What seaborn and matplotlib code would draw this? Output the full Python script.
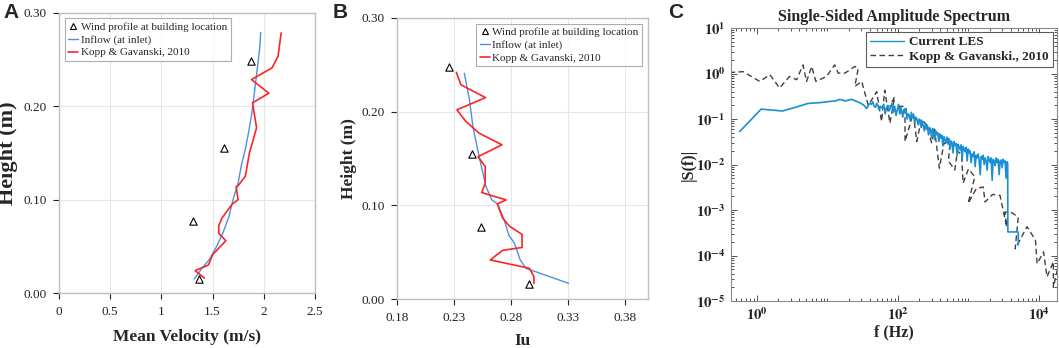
import numpy as np
import seaborn as sns
import matplotlib.pyplot as plt
from matplotlib.lines import Line2D
from matplotlib.ticker import FixedLocator, LogLocator, NullFormatter, FuncFormatter

# ---- panel A: mean velocity profile ----
a_site_u = [1.88, 1.61, 1.31, 1.37]
a_site_z = [0.248, 0.155, 0.077, 0.015]
a_inlet_u = [1.32, 1.34, 1.40, 1.47, 1.54, 1.60, 1.66, 1.70, 1.75, 1.78,
             1.82, 1.85, 1.88, 1.90, 1.92, 1.94, 1.96, 1.97]
a_inlet_z = [0.015, 0.018, 0.027, 0.036, 0.050, 0.064, 0.082, 0.100, 0.118, 0.136,
             0.154, 0.171, 0.190, 0.207, 0.225, 0.243, 0.262, 0.279]
a_kopp_u = [1.42, 1.33, 1.46, 1.50, 1.63, 1.56, 1.56, 1.59, 1.69, 1.75, 1.73,
            1.75, 1.82, 1.86, 1.93, 1.89, 2.05, 1.88, 2.08, 2.14, 2.17]
a_kopp_z = [0.016, 0.024, 0.030, 0.041, 0.056, 0.064, 0.072, 0.080, 0.095, 0.100, 0.1136,
            0.115, 0.125, 0.150, 0.177, 0.2036, 0.214, 0.2286, 0.241, 0.2536, 0.2786]

# ---- panel B: turbulence intensity profile ----
b_site_iu = [0.2255, 0.246, 0.254, 0.296]
b_site_z = [0.248, 0.155, 0.077, 0.0157]
b_inlet_iu = [0.239, 0.2435, 0.2465, 0.252, 0.258, 0.263, 0.268, 0.274, 0.278,
              0.283, 0.288, 0.293, 0.3304]
b_inlet_z = [0.241, 0.2127, 0.184, 0.152, 0.120, 0.106, 0.1015, 0.0844, 0.068,
             0.0595, 0.0417, 0.0328, 0.0167]
b_kopp_iu = [0.232, 0.236, 0.2576, 0.2325, 0.240, 0.252, 0.272, 0.251, 0.2573, 0.2573,
             0.2543, 0.2756, 0.268, 0.2727, 0.279, 0.2896, 0.2896, 0.2727, 0.2617,
             0.296, 0.300, 0.300]
b_kopp_z = [0.242, 0.2287, 0.215, 0.202, 0.190, 0.177, 0.1646, 0.152, 0.1414, 0.1236,
            0.1136, 0.1058, 0.1015, 0.086, 0.0773, 0.069, 0.055, 0.052, 0.0417,
            0.0328, 0.0239, 0.0167]

# ---- panel C: single-sided amplitude spectrum ----
les_f = [0.57, 1.15, 2.3, 3.5, 5.3, 8, 10, 13, 15, 18, 22, 25, 30, 33, 36,
         38, 40, 42, 44, 46, 48, 50, 52, 54, 57, 60, 63, 66, 69, 72, 75, 78, 82, 86, 90, 94, 98,
         102, 106, 109, 113, 117, 121, 125, 130, 135, 140,
         145, 150, 155, 161, 167, 173, 179, 186, 193, 200,
         207, 214, 221, 229, 237, 245, 253, 262, 271, 280,
         290, 300, 310, 321, 332, 343, 355, 367, 380, 393,
         406, 420, 434, 449, 464, 480, 496,
         513, 530, 548, 566, 585, 605, 625, 646, 668, 690,
         713, 737, 762, 787, 813, 840, 868, 897, 927, 958, 990,
         1023, 1057, 1092, 1128, 1166, 1205, 1245, 1286, 1329, 1373,
         1419, 1466, 1515, 1565, 1617, 1671, 1726, 1783, 1842, 1903,
         1966, 2031, 2098, 2168, 2240, 2314, 2391, 2470, 2552, 2636,
         2723, 2813, 2906, 3002, 3101, 3203, 3308, 3417, 3528, 3600,
         3620, 5080, 5090]
les_s = [0.053, 0.165, 0.15, 0.18, 0.22, 0.23, 0.24, 0.25, 0.27, 0.25, 0.27, 0.25, 0.22, 0.20, 0.17,
         0.20, 0.22, 0.21, 0.24, 0.19, 0.18, 0.22, 0.20, 0.16, 0.19, 0.17, 0.21, 0.13, 0.18, 0.20,
         0.15, 0.17, 0.22, 0.14, 0.19, 0.12, 0.16,
         0.21, 0.13, 0.18, 0.15, 0.11, 0.16, 0.14, 0.17, 0.10, 0.13,
         0.12, 0.09, 0.14, 0.11, 0.12, 0.08, 0.11, 0.10, 0.075, 0.10,
         0.085, 0.065, 0.09, 0.07, 0.055, 0.08, 0.06, 0.072, 0.045, 0.065,
         0.058, 0.04, 0.062, 0.05, 0.035, 0.055, 0.045, 0.05, 0.032, 0.047,
         0.038, 0.044, 0.026, 0.041, 0.035, 0.03, 0.04,
         0.028, 0.037, 0.022, 0.033, 0.03, 0.018, 0.032, 0.026, 0.029, 0.016,
         0.028, 0.024, 0.021, 0.027, 0.013, 0.025, 0.022, 0.019, 0.024, 0.012, 0.022,
         0.018, 0.02, 0.011, 0.017, 0.015, 0.019, 0.009, 0.016, 0.014, 0.017,
         0.012, 0.006, 0.015, 0.013, 0.016, 0.01, 0.014, 0.012, 0.0075, 0.015,
         0.013, 0.011, 0.014, 0.0045, 0.013, 0.012, 0.0095, 0.014, 0.011, 0.013,
         0.006, 0.012, 0.0125, 0.0085, 0.013, 0.011, 0.012, 0.005, 0.0115, 0.0105,
         0.00033, 0.00033, 0.00017]
kopp_f = [0.41, 0.64, 1.1, 1.53, 2.1, 2.9, 3.66, 4.5, 5.06, 6.0, 6.87, 9.7, 12.7, 14.2,
          17.7, 24.5, 27.4, 24.5, 30.6, 38, 50, 58.6, 65, 77, 90, 77, 126, 126, 165,
          185, 215, 256, 300, 330, 387, 450, 545, 520, 640, 700, 800, 840, 1000, 1230,
          990, 1300, 1620, 1720, 2200, 2800, 3480, 3300, 4000, 5080, 4600, 6760, 8900,
          9400, 11600, 13000, 16000, 16000, 18600]
kopp_s = [1.05, 1.1, 0.67, 0.94, 0.48, 0.86, 0.73, 1.55, 0.67, 1.43, 0.67, 0.86, 1.55, 1.02,
          1.02, 1.43, 1.31, 0.52, 0.67, 0.2, 0.4, 0.088, 0.43, 0.081, 0.31, 0.19, 0.19, 0.032,
          0.134, 0.032, 0.10, 0.074, 0.03, 0.06, 0.0083, 0.03, 0.027, 0.012, 0.0076, 0.02,
          0.016, 0.0039, 0.008, 0.0054, 0.0014, 0.003, 0.0032, 0.0015, 0.0022, 0.0021,
          0.00043, 0.0009, 0.0009, 0.0007, 0.00014, 0.00043, 0.00022, 0.000066, 0.00012,
          0.000034, 0.000073, 0.00002, 0.000056]
c_xticks = [1, 100, 10000]
c_yticks = [1e-5, 1e-4, 1e-3, 1e-2, 1e-1, 1, 10]

sns.set_theme(style="white")
plt.rcParams["font.family"] = ["Liberation Serif", "DejaVu Serif"]
plt.rcParams["mathtext.fontset"] = "stix"

BLUE = "#4f8fdc"
RED = "#ff2424"
EDGE = "#bfbfbf"
LES_BLUE = "#1b8fd2"

fig = plt.figure(figsize=(10.59, 3.48), dpi=100)
ax_a = fig.add_axes([0.0557, 0.158, 0.2417, 0.805])
ax_b = fig.add_axes([0.3749, 0.1408, 0.237, 0.8075])
ax_c = fig.add_axes([0.6903, 0.135, 0.3078, 0.7845])


def profile_panel(ax, su, sz, iu, iz, ku, kz, xticks, xlabels, xlim, legloc):
    sns.scatterplot(x=su, y=sz, ax=ax, marker="^", s=28, facecolor="white",
                    edgecolor="black", linewidth=0.8, zorder=4)
    sns.lineplot(x=iu, y=iz, ax=ax, sort=False, estimator=None, color=BLUE, lw=1.0, zorder=3)
    sns.lineplot(x=ku, y=kz, ax=ax, sort=False, estimator=None, color=RED, lw=1.2, zorder=3)
    ax.set_xlim(*xlim)
    ax.set_ylim(0, 0.30)
    ax.set_xticks(xticks)
    ax.set_xticklabels(xlabels)
    ax.set_yticks([0, 0.1, 0.2, 0.3])
    ax.set_yticklabels(["0.00", "0.10", "0.20", "0.30"])
    ax.grid(True, color="#e6e6e6", lw=0.8)
    ax.set_axisbelow(True)
    for sp in ax.spines.values():
        sp.set_color(EDGE)
        sp.set_linewidth(1.0)
    ax.tick_params(axis="both", labelsize=9.5, colors="#222222", length=4, width=0.8,
                   direction="out", bottom=True, left=True, pad=5)
    for t in ax.get_xticklabels() + ax.get_yticklabels():
        t.set_color("#222222")
    handles = [
        Line2D([], [], ls="none", marker="^", mfc="white", mec="black", ms=5, mew=0.8),
        Line2D([], [], color=BLUE, lw=1.0),
        Line2D([], [], color=RED, lw=1.2),
    ]
    leg = ax.legend(handles, ["Wind profile at building location", "Inflow (at inlet)",
                              "Kopp & Gavanski, 2010"],
                    loc=legloc, fontsize=8, frameon=True, fancybox=False,
                    edgecolor="#9a9a9a", handlelength=0.9, handletextpad=0.2,
                    borderpad=0.35, labelspacing=0.25, borderaxespad=0.5)
    leg.get_frame().set_linewidth(0.8)


profile_panel(ax_a, a_site_u, a_site_z, a_inlet_u, a_inlet_z, a_kopp_u, a_kopp_z,
              [0, 0.5, 1, 1.5, 2, 2.5], ["0", "0.5", "1", "1.5", "2", "2.5"], (0, 2.5), "upper left")
ax_a.set_xlabel("Mean Velocity (m/s)", fontsize=12.5, fontweight="bold")
ax_a.xaxis.set_label_coords(0.5, -0.13)
ax_a.set_ylabel("Height (m)", fontsize=16, fontweight="bold")
ax_a.yaxis.set_label_coords(-0.16, 0.5)

profile_panel(ax_b, b_site_iu, b_site_z, b_inlet_iu, b_inlet_z, b_kopp_iu, b_kopp_z,
              [0.18, 0.23, 0.28, 0.33, 0.38], ["0.18", "0.23", "0.28", "0.33", "0.38"],
              (0.18, 0.40), "upper right")
ax_b.set_xlabel("Iu", fontsize=12.5, fontweight="bold")
ax_b.xaxis.set_label_coords(0.5, -0.12)
ax_b.set_ylabel("Height (m)", fontsize=12.5, fontweight="bold")
ax_b.yaxis.set_label_coords(-0.16, 0.5)

# ---- panel C ----
ax_c.set_xscale("log")
ax_c.set_yscale("log")
sns.lineplot(x=les_f, y=les_s, ax=ax_c, sort=False, estimator=None, color=LES_BLUE, lw=1.2, zorder=3)
sns.lineplot(x=kopp_f, y=kopp_s, ax=ax_c, sort=False, estimator=None, color="#404040",
             lw=1.0, zorder=2)
ax_c.lines[-1].set_dashes([4, 2.5])
ax_c.set_xlim(0.43, 18000)
ax_c.set_ylim(1e-5, 10)
ax_c.xaxis.set_major_locator(FixedLocator(c_xticks))
ax_c.xaxis.set_minor_locator(LogLocator(base=10, subs=np.arange(1, 10), numticks=20))
ax_c.xaxis.set_minor_formatter(NullFormatter())
ax_c.yaxis.set_major_locator(FixedLocator(c_yticks))
ax_c.yaxis.set_minor_locator(LogLocator(base=10, subs=np.arange(2, 10), numticks=20))
ax_c.yaxis.set_minor_formatter(NullFormatter())
fmt = FuncFormatter(lambda v, p: r"$\mathbf{10^{%d}}$" % int(round(np.log10(v))))
ax_c.xaxis.set_major_formatter(fmt)
ax_c.yaxis.set_major_formatter(fmt)
ax_c.tick_params(which="both", direction="in", top=True, right=True, bottom=True, left=True,
                 colors="#333333", labelsize=10.5, width=0.6)
ax_c.tick_params(which="major", length=4, pad=4)
ax_c.tick_params(which="minor", length=2)
for t in ax_c.get_xticklabels() + ax_c.get_yticklabels():
    t.set_color("#222222")
for sp in ax_c.spines.values():
    sp.set_color("#8a8a8a")
    sp.set_linewidth(0.8)
ax_c.set_title("Single-Sided Amplitude Spectrum", fontsize=11.5, fontweight="bold", pad=5)
ax_c.set_xlabel("f (Hz)", fontsize=11.5, fontweight="bold")
ax_c.xaxis.set_label_coords(0.5, -0.085)
ax_c.set_ylabel("|S(f)|", fontsize=11.5, fontweight="bold")
ax_c.yaxis.set_label_coords(-0.105, 0.5)
handles_c = [Line2D([], [], color=LES_BLUE, lw=1.0),
             Line2D([], [], color="#404040", lw=1.0, dashes=[4, 2.5])]
leg_c = ax_c.legend(handles_c, ["Current LES", "Kopp & Gavanski., 2010"], loc="upper right",
                    prop={"weight": "bold", "size": 9.5}, frameon=True, fancybox=False,
                    edgecolor="#333333", handlelength=2.6, handletextpad=0.4,
                    borderpad=0.3, labelspacing=0.2, borderaxespad=0.3)
leg_c.get_frame().set_linewidth(0.8)

for lbl, xx in [("A", 0.003), ("B", 0.314), ("C", 0.631)]:
    fig.text(xx, 0.99, lbl, fontsize=15, fontweight="bold", va="top", ha="left",
             family=["Liberation Sans", "DejaVu Sans"])

plt.savefig("out.png", dpi=100)
print("saved")
